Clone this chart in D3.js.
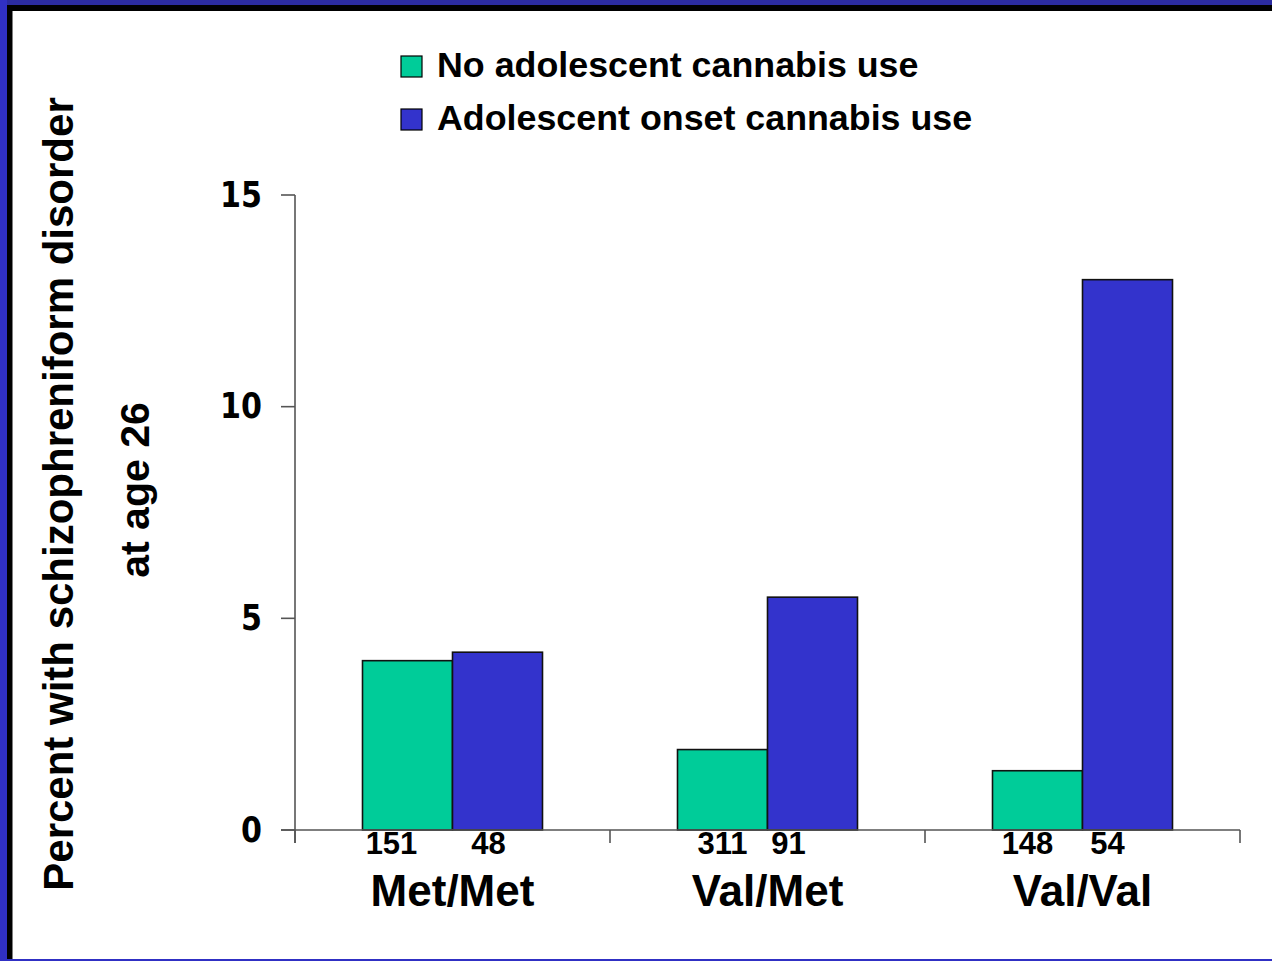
<!DOCTYPE html>
<html>
<head>
<meta charset="utf-8">
<script src="https://cdn.jsdelivr.net/npm/d3@7"></script>
<style>
  html, body { margin: 0; padding: 0; background: #fff; }
  svg { display: block; }
</style>
</head>
<body>
<svg id="chart" width="1272" height="961"></svg>
<script>
// Genotype groups along the x axis
const genotypes = ["Met/Met", "Val/Met", "Val/Val"];
// Series names (legend order)
const seriesNames = ["No adolescent cannabis use", "Adolescent onset cannabis use"];
// Percent with schizophreniform disorder at age 26
const noUse = [4.0, 1.9, 1.4];
const adolescentUse = [4.2, 5.5, 13.0];
// Sample size printed under each bar
const nNoUse = [151, 311, 148];
const nAdolescentUse = [48, 91, 54];
// Y axis ticks
const yTicks = [0, 5, 10, 15];

const colors = ["#00CC99", "#3333CC"];
// small horizontal nudges for the sample-size labels (px), per group
const countNudge = [[-16, -9], [0, -24], [-10, -20]];

const svg = d3.select("#chart");
const W = 1272, H = 961;

// frame
svg.append("rect").attr("x", 0).attr("y", 0).attr("width", W).attr("height", H).attr("fill", "#fff");
svg.append("rect").attr("x", 0).attr("y", 0).attr("width", W).attr("height", 5).attr("fill", "#2B2BA0");
svg.append("rect").attr("x", 0).attr("y", 0).attr("width", 7).attr("height", H).attr("fill", "#3030C4");
svg.append("rect").attr("x", 7).attr("y", 5).attr("width", W - 7).attr("height", 6).attr("fill", "#000");
svg.append("rect").attr("x", 7).attr("y", 5).attr("width", 5.5).attr("height", H - 7).attr("fill", "#000");
svg.append("rect").attr("x", 0).attr("y", 959).attr("width", W).attr("height", 2).attr("fill", "#3030C4");

const x0 = d3.scaleBand().domain(genotypes).range([295, 1240]).padding(0);
const x1 = d3.scaleBand().domain([0, 1]).range([0, x0.bandwidth()]).paddingInner(0).paddingOuter(0.75);
const y = d3.scaleLinear().domain([0, 15]).range([830, 195]);

const axisColor = "#555";
const sans = "Liberation Sans, Arial, sans-serif";

// y axis line (runs down to the x tick length)
svg.append("line").attr("x1", 295).attr("x2", 295).attr("y1", y(15)).attr("y2", y(0) + 13)
  .attr("stroke", axisColor).attr("stroke-width", 1.6);

// y ticks and labels
const yAxis = svg.append("g");
yTicks.forEach(t => {
  yAxis.append("line").attr("x1", 281).attr("x2", 295).attr("y1", y(t)).attr("y2", y(t))
    .attr("stroke", axisColor).attr("stroke-width", 1.6);
  yAxis.append("text")
    .attr("transform", `translate(262,${y(t)}) scale(1.04,1.2)`)
    .attr("text-anchor", "end").attr("dominant-baseline", "central")
    .attr("font-family", "DejaVu Sans").attr("font-weight", "bold").attr("font-size", 29)
    .attr("fill", "#000").text(t);
});

// bars
const groups = svg.append("g").selectAll("g").data(genotypes).join("g")
  .attr("transform", d => `translate(${x0(d)},0)`);
groups.each(function(g, i) {
  const vals = [noUse[i], adolescentUse[i]];
  d3.select(this).selectAll("rect").data(vals).join("rect")
    .attr("x", (d, j) => x1(j))
    .attr("y", d => y(d))
    .attr("width", x1.bandwidth())
    .attr("height", d => y(0) - y(d))
    .attr("fill", (d, j) => colors[j])
    .attr("stroke", "#111").attr("stroke-width", 1.6);
});

// x axis line and boundary ticks
svg.append("line").attr("x1", 281).attr("x2", 1240).attr("y1", y(0)).attr("y2", y(0))
  .attr("stroke", axisColor).attr("stroke-width", 1.6);
const bounds = genotypes.map(g => x0(g)).concat([x0(genotypes[genotypes.length - 1]) + x0.bandwidth()]);
bounds.forEach(b => {
  svg.append("line").attr("x1", b).attr("x2", b).attr("y1", y(0)).attr("y2", y(0) + 13)
    .attr("stroke", axisColor).attr("stroke-width", 1.6);
});

// sample sizes under the bars
genotypes.forEach((g, i) => {
  [nNoUse[i], nAdolescentUse[i]].forEach((n, j) => {
    svg.append("text")
      .attr("x", x0(g) + x1(j) + x1.bandwidth() / 2 + countNudge[i][j])
      .attr("y", 854)
      .attr("text-anchor", "middle")
      .attr("font-family", sans).attr("font-weight", "bold")
      .attr("font-size", 31).attr("fill", "#000").text(n);
  });
  svg.append("text")
    .attr("x", x0(g) + x0.bandwidth() / 2)
    .attr("y", 906)
    .attr("text-anchor", "middle")
    .attr("font-family", sans).attr("font-weight", "bold")
    .attr("font-size", 44).attr("fill", "#000").text(g);
});

// y axis title
svg.append("text")
  .attr("transform", "translate(73,494) rotate(-90)")
  .attr("text-anchor", "middle")
  .attr("font-family", sans).attr("font-weight", "bold")
  .attr("font-size", 42).attr("fill", "#000").text("Percent with schizophreniform disorder");
svg.append("text")
  .attr("transform", "translate(149,490) rotate(-90)")
  .attr("text-anchor", "middle")
  .attr("font-family", sans).attr("font-weight", "bold")
  .attr("font-size", 41).attr("fill", "#000").text("at age 26");

// legend
const legend = svg.append("g");
seriesNames.forEach((s, j) => {
  const top = 56 + j * 53;
  legend.append("rect").attr("x", 401).attr("y", top).attr("width", 21).attr("height", 21)
    .attr("fill", colors[j]).attr("stroke", "#000").attr("stroke-width", 1.2);
  legend.append("text").attr("x", 437).attr("y", top + 21)
    .attr("font-family", sans).attr("font-weight", "bold")
    .attr("font-size", 35.8).attr("fill", "#000").text(s);
});
</script>
</body>
</html>
